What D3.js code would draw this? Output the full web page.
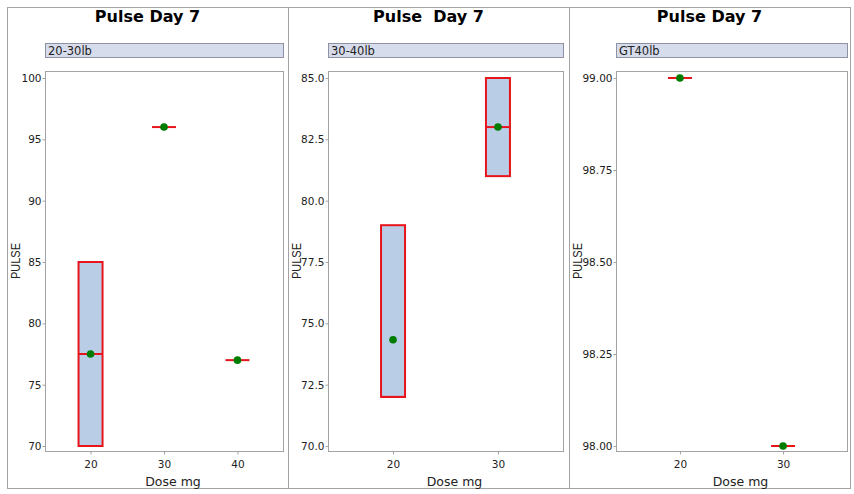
<!DOCTYPE html>
<html>
<head>
<meta charset="utf-8">
<script src="https://cdn.jsdelivr.net/npm/d3@7"></script>
<style>
  html, body { margin: 0; padding: 0; background: #fff; }
  svg { display: block; }
  text { font-family: "DejaVu Sans", Verdana, sans-serif; fill: #222; }
</style>
</head>
<body>
<div id="chart"></div>
<script>
// data
const panelTitles = ["Pulse Day 7", "Pulse  Day 7", "Pulse Day 7"];
const groups = ["20-30lb", "30-40lb", "GT40lb"];
const doseLevels = [[20, 30, 40], [20, 30], [20, 30]];
const q1Values = [[70, 96, 77], [72, 81], [99, 98]];
const medianValues = [[77.5, 96, 77], [72, 83], [99, 98]];
const q3Values = [[85, 96, 77], [79, 85], [99, 98]];
const meanValues = [[77.5, 96, 77], [74.33, 83], [99, 98]];
const yDomains = [[70, 100], [70, 85], [98, 99]];
const yTicks = [
  [70, 75, 80, 85, 90, 95, 100],
  [70, 72.5, 75, 77.5, 80, 82.5, 85],
  [98, 98.25, 98.5, 98.75, 99]
];
const yTickFormats = [".0f", ".1f", ".2f"];

const width = 854, height = 494;
const cells = [
  { x0: 7, x1: 288, pl: 45, pr: 283 },
  { x0: 288, x1: 569, pl: 328, pr: 563 },
  { x0: 569, x1: 850, pl: 616, pr: 847 }
];
const plotTop = 71, plotBottom = 451;
const boxW = 24;
const grey = "#a3a3a3";
const red = "#e8141c";
const green = "#007d00";

const svg = d3.select("#chart").append("svg")
  .attr("width", width)
  .attr("height", height);

// outer frame and separators
svg.append("rect")
  .attr("x", 7.5).attr("y", 7.5)
  .attr("width", 850 - 7).attr("height", 488 - 7)
  .attr("fill", "none").attr("stroke", grey);
[288, 569].forEach(x => {
  svg.append("line")
    .attr("x1", x + 0.5).attr("x2", x + 0.5)
    .attr("y1", 7).attr("y2", 488)
    .attr("stroke", grey);
});

groups.forEach((grp, i) => {
  const c = cells[i];
  const g = svg.append("g");

  const x = d3.scalePoint()
    .domain(doseLevels[i])
    .range([c.pl, c.pr])
    .padding(0.62);

  const y = d3.scaleLinear()
    .domain(yDomains[i])
    .range([plotBottom - 5, plotTop + 7]);

  // title
  g.append("text")
    .attr("x", (c.x0 + c.x1) / 2)
    .attr("y", 22)
    .attr("text-anchor", "middle")
    .style("white-space", "pre")
    .style("font-weight", "bold")
    .style("font-size", "16px")
    .style("fill", "#000")
    .text(panelTitles[i]);

  // strip
  g.append("rect")
    .attr("x", c.pl + 0.5).attr("y", 43.5)
    .attr("width", c.pr - c.pl).attr("height", 14)
    .attr("fill", "#d7dcec")
    .attr("stroke", "#8e92a2");
  g.append("text")
    .attr("x", c.pl + 3)
    .attr("y", 54.5)
    .style("font-size", "11.5px")
    .text(grp);

  // plot frame
  g.append("rect")
    .attr("x", c.pl + 0.5).attr("y", plotTop + 0.5)
    .attr("width", c.pr - c.pl).attr("height", plotBottom - plotTop)
    .attr("fill", "none")
    .attr("stroke", grey);

  // y axis
  const yAxis = g.append("g")
    .attr("transform", `translate(${c.pl + 0.5},0)`)
    .call(d3.axisLeft(y).tickValues(yTicks[i])
      .tickFormat(d3.format(yTickFormats[i]))
      .tickSize(3).tickPadding(1));
  yAxis.select(".domain").remove();
  yAxis.selectAll("line").attr("stroke", grey);
  yAxis.selectAll("text")
    .style("font-family", "'DejaVu Sans', Verdana, sans-serif")
    .style("font-size", "10.5px")
    .attr("fill", "#222");

  // x axis
  const xAxis = g.append("g")
    .attr("transform", `translate(0,${plotBottom + 0.5})`)
    .call(d3.axisBottom(x).tickSize(3).tickPadding(6));
  xAxis.select(".domain").remove();
  xAxis.selectAll("line").attr("stroke", grey);
  xAxis.selectAll("text")
    .style("font-family", "'DejaVu Sans', Verdana, sans-serif")
    .style("font-size", "10.5px")
    .attr("fill", "#222");

  // axis labels
  g.append("text")
    .attr("transform", `translate(${c.x0 + 13},${(plotTop + plotBottom) / 2}) rotate(-90)`)
    .attr("text-anchor", "middle")
    .attr("textLength", 36)
    .attr("lengthAdjust", "spacingAndGlyphs")
    .style("font-family", "'Liberation Sans', Arial, sans-serif")
    .style("font-size", "13px")
    .text("PULSE");
  g.append("text")
    .attr("x", (c.pl + c.pr) / 2 + 9)
    .attr("y", 486)
    .attr("text-anchor", "middle")
    .style("font-size", "12.5px")
    .text("Dose mg");

  // boxes
  const rows = doseLevels[i].map((d, j) => ({
    dose: d,
    q1: q1Values[i][j],
    med: medianValues[i][j],
    q3: q3Values[i][j],
    mean: meanValues[i][j]
  }));

  const boxes = g.append("g").selectAll("g")
    .data(rows)
    .join("g");

  boxes.filter(d => d.q3 > d.q1)
    .append("rect")
    .attr("x", d => x(d.dose) - boxW / 2)
    .attr("y", d => y(d.q3))
    .attr("width", boxW)
    .attr("height", d => y(d.q1) - y(d.q3))
    .attr("fill", "#b9cee6")
    .attr("stroke", red)
    .attr("stroke-width", 2);

  boxes.append("line")
    .attr("x1", d => x(d.dose) - boxW / 2)
    .attr("x2", d => x(d.dose) + boxW / 2)
    .attr("y1", d => y(d.med))
    .attr("y2", d => y(d.med))
    .attr("stroke", red)
    .attr("stroke-width", 2);

  boxes.append("circle")
    .attr("cx", d => x(d.dose))
    .attr("cy", d => y(d.mean))
    .attr("r", 3.8)
    .attr("fill", green);
});
</script>
</body>
</html>
